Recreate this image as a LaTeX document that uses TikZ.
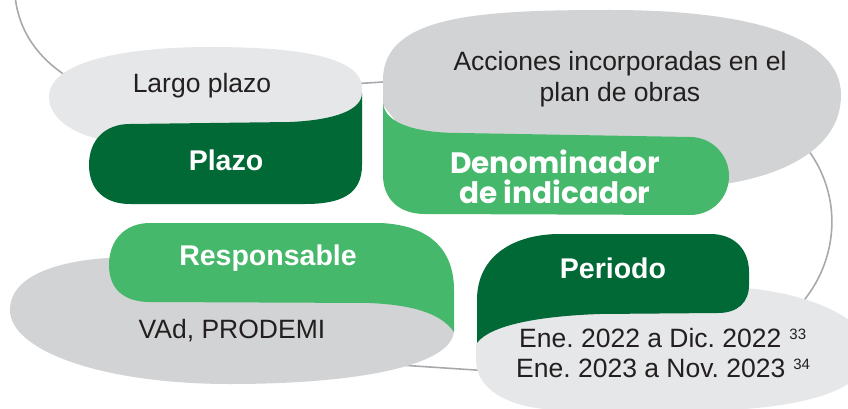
\documentclass[tikz,border=0pt]{standalone}
\usepackage{fontspec}
\setmainfont{Liberation Sans}
\newfontfamily\popfont{Poppins}
\definecolor{dkgreen}{HTML}{006935}
\definecolor{ltgreen}{HTML}{45B86B}
\definecolor{midgray}{HTML}{D1D3D4}
\definecolor{palegray}{HTML}{E6E7E8}
\definecolor{linegray}{HTML}{A7A9AC}
\definecolor{txt}{HTML}{231F20}
\newcommand{\supnum}[1]{\hspace{8pt}\raisebox{8pt}{\fontsize{15}{15}\selectfont #1}}
\frenchspacing
\begin{document}
\begin{tikzpicture}[x=1pt,y=-1pt,
  lbl/.style={text=txt, font=\fontsize{26.5}{31}\selectfont, inner sep=0pt, anchor=base},
  hdr/.style={text=white, font=\bfseries\fontsize{28.5}{32}\selectfont, inner sep=0pt, anchor=base},
  hdrpop/.style={text=white, font=\popfont\bfseries\fontsize{29.5}{30}\selectfont, inner sep=0pt, anchor=base},
  link/.style={draw=linegray, line width=1.6pt}]
\useasboundingbox (0,0) rectangle (848,409);
\clip (0,0) rectangle (848,409);

% connector line (behind everything)
\coordinate (l0) at (15,-5);
\coordinate (l1) at (80,84);
\coordinate (l2) at (350,84);
\coordinate (l3) at (400,81);
\coordinate (r0) at (800,140);
\coordinate (r1) at (800,305);
\coordinate (b0) at (400,365);
\coordinate (b1) at (490,371);
\draw[link] (l0) .. controls (18,30) and (38,62) .. (l1);
\draw[link] (l2) -- (l3);
\draw[link] (r0) .. controls (845,190) and (840,260) .. (r1);
\draw[link] (b0) -- (b1);

% Largo plazo blob
\fill[palegray] (49,97) .. controls (49,60) and (130,47) .. (210,47)
  .. controls (290,47) and (362,55) .. (362,88) -- (362,130) -- (150,145)
  .. controls (90,145) and (49,125) .. (49,97) -- cycle;
% Plazo
\fill[dkgreen] (130,124) -- (290,122) .. controls (335,120) and (362,110) .. (362,93)
  -- (362,165) .. controls (362,195) and (340,204) .. (305,204) -- (130,204)
  .. controls (105,204) and (89,190) .. (89,165) .. controls (89,140) and (105,124) .. (130,124) -- cycle;

% Acciones blob
\fill[midgray] (383,105) -- (383,80) .. controls (383,15) and (480,10) .. (610,10)
  .. controls (760,10) and (841,40) .. (841,95)
  .. controls (841,150) and (780,180) .. (700,187) -- (450,190) -- cycle;
% Denominador
\fill[ltgreen] (383,103) .. controls (385,125) and (420,133) .. (460,133) -- (690,137)
  .. controls (712,137) and (729,155) .. (729,176) .. controls (729,198) and (712,215) .. (690,215)
  -- (425,214) .. controls (400,214) and (383,200) .. (383,175) -- cycle;

% VAd blob
\fill[midgray] (454,330) .. controls (454,365) and (360,384) .. (230,384)
  .. controls (100,384) and (10,350) .. (10,310) .. controls (10,275) and (60,258) .. (130,257)
  -- (400,260) -- cycle;
% Responsable
\fill[ltgreen] (150,223) -- (380,223) .. controls (430,225) and (454,250) .. (454,290)
  -- (454,332) .. controls (440,312) and (410,305) .. (370,303) -- (150,302)
  .. controls (125,302) and (109,290) .. (109,265) .. controls (109,240) and (125,223) .. (150,223) -- cycle;

% Ene blob
\fill[palegray] (476,345) .. controls (478,320) and (560,305) .. (700,287)
  .. controls (800,283) and (870,320) .. (870,350)
  .. controls (870,385) and (820,409) .. (700,411) -- (560,410)
  .. controls (510,409) and (476,390) .. (476,360) -- cycle;
% Periodo
\fill[dkgreen] (477,300) .. controls (477,255) and (515,234) .. (560,234) -- (710,234)
  .. controls (735,234) and (749,250) .. (749,272) -- (749,285)
  .. controls (749,302) and (738,313) .. (718,313) -- (600,314)
  .. controls (540,316) and (490,325) .. (477,343) -- cycle;

% texts
\node[lbl] (largo) at (202,93) {Largo plazo};
\node[hdr] (plazo) at (226,170) {Plazo};
\node[lbl] (acc1) at (620,71) {Acciones incorporadas en el};
\node[lbl] (acc2) at (620,102) {plan de obras};
\node[hdrpop] (den1) at (555,173) {Denominador};
\node[hdrpop] (den2) at (555,203) {de indicador};
\node[hdr] (resp) at (268,265) {Responsable};
\node[lbl] (vad) at (232,338) {VAd, PRODEMI};
\node[hdr] (per) at (613,278) {Periodo};
\node[lbl, anchor=base west] (ene1) at (519,347) {Ene. 2022 a Dic. 2022\supnum{33}};
\node[lbl, anchor=base west] (ene2) at (516,377) {Ene. 2023 a Nov. 2023\supnum{34}};
\end{tikzpicture}
\end{document}
